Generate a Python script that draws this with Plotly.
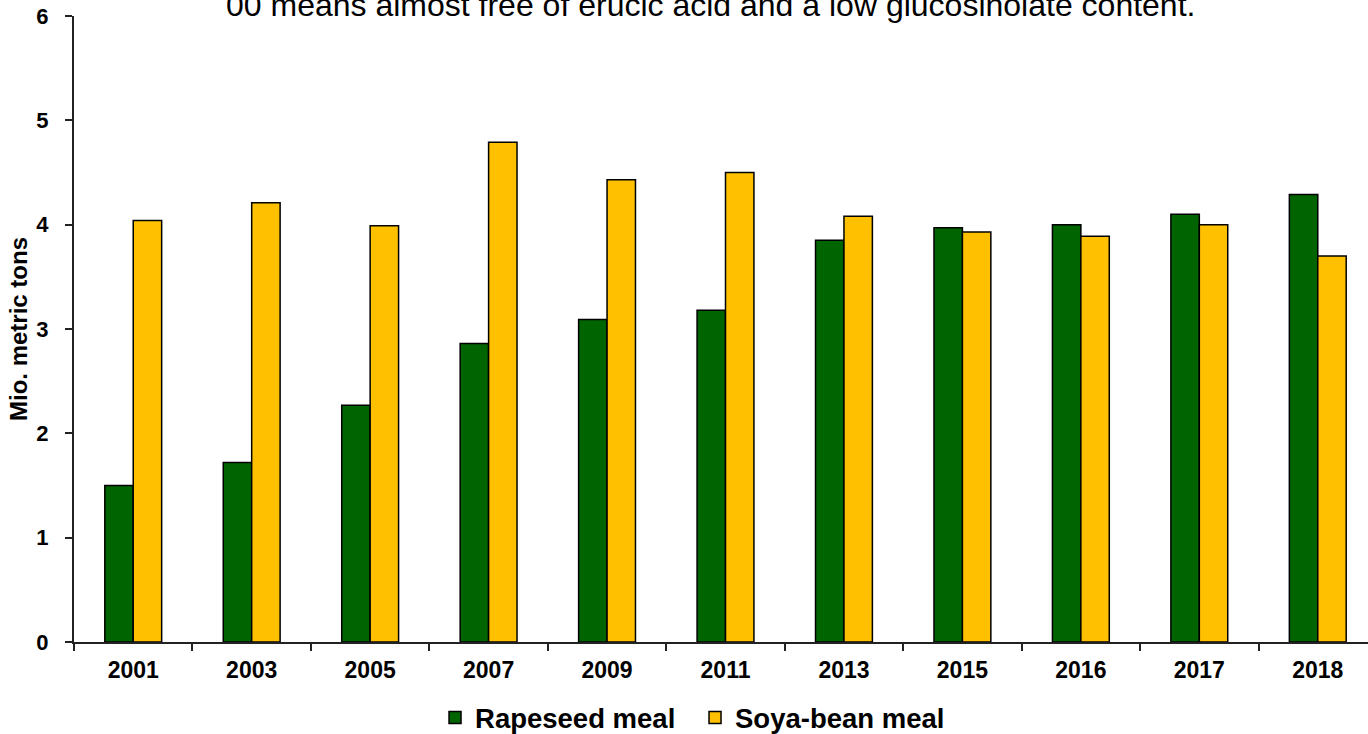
import plotly.graph_objects as go

years = ["2001", "2003", "2005", "2007", "2009", "2011", "2013", "2015", "2016", "2017", "2018"]
rapeseed_meal = [1.50, 1.72, 2.27, 2.86, 3.09, 3.18, 3.85, 3.97, 4.00, 4.10, 4.29]
soya_bean_meal = [4.04, 4.21, 3.99, 4.79, 4.43, 4.50, 4.08, 3.93, 3.89, 4.00, 3.70]
y_ticks = [0, 1, 2, 3, 4, 5, 6]

FONT = "Liberation Sans, Arial, sans-serif"

fig = go.Figure()
fig.add_trace(go.Bar(
    x=years, y=rapeseed_meal, name="Rapeseed meal",
    marker=dict(color="#006400", line=dict(color="#000000", width=1.5)),
))
fig.add_trace(go.Bar(
    x=years, y=soya_bean_meal, name="Soya-bean meal",
    marker=dict(color="#FFC000", line=dict(color="#000000", width=1.5)),
))

fig.update_layout(
    width=1368, height=734,
    margin=dict(l=74, r=0, t=16, b=92, autoexpand=False),
    paper_bgcolor="white", plot_bgcolor="white",
    barmode="group", bargap=0.52, bargroupgap=0,
    font=dict(family=FONT, color="black"),
    showlegend=True,
    legend=dict(
        orientation="h", x=0.279, xanchor="left", y=-0.121, yanchor="middle",
        font=dict(size=27.5, family=FONT, weight="bold"),
        itemwidth=30, traceorder="normal",
        entrywidth=215, entrywidthmode="pixels",
    ),
    annotations=[dict(
        text="00 means almost free of erucic acid and a low glucosinolate content.",
        xref="paper", yref="paper", x=0.4915, y=0.9856,
        xanchor="center", yanchor="bottom", showarrow=False,
        font=dict(size=32, family=FONT, color="black"),
    )],
)

fig.update_xaxes(
    type="category", range=[-0.5, 10.424], automargin=False,
    showline=True, linecolor="#222222", linewidth=2,
    ticks="outside", tickson="boundaries", ticklen=7, tickcolor="#222222", tickwidth=2,
    tickfont=dict(size=23, family=FONT, weight="bold"),
    ticklabelstandoff=6,
    showgrid=False, zeroline=False,
)
fig.update_yaxes(
    range=[0, 6], tickvals=y_ticks, automargin=False,
    showline=True, linecolor="#222222", linewidth=2,
    ticks="outside", ticklen=7, tickcolor="#222222", tickwidth=2,
    tickfont=dict(size=22, family=FONT, weight="bold"),
    ticklabelstandoff=12,
    showgrid=False, zeroline=False,
    title=dict(text="Mio. metric tons", font=dict(size=24, family=FONT, weight="bold"), standoff=2),
)

fig.write_html("out.html")
